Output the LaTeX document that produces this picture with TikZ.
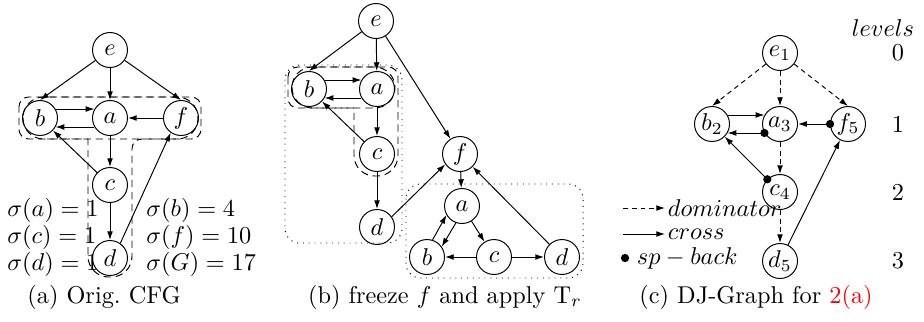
\documentclass[tikz,border=0pt]{standalone}
\usetikzlibrary{arrows.meta}
\begin{document}
\begin{tikzpicture}[x=0.4115pt,y=-0.4115pt,
  nd/.style={circle,draw,minimum size=14.4pt,inner sep=0pt},
  arr/.style={-{Latex[length=3.6pt,width=2.4pt]}},
  dom/.style={arr,dash pattern=on 2pt off 1.6pt},
  grp/.style={dash pattern=on 3pt off 2pt},
  zone/.style={dotted,rounded corners=6pt},
  dotm/.style={circle,fill,inner sep=0pt,minimum size=3.4pt},
  lbl/.style={anchor=base west,inner sep=0pt}]
\useasboundingbox (0,0) rectangle (924,321);

% ---------------- (a)
\node[nd] (ae) at (110,50) {$e$};
\node[nd] (ab) at (40,118) {$b$};
\node[nd] (aa) at (110,118) {$a$};
\node[nd] (af) at (181,118) {$f$};
\node[nd] (ac) at (110,185) {$c$};
\node[nd] (ad) at (110,258) {$d$};
\draw[arr] (ae) -- (ab.north);
\draw[arr] (ae) -- (aa);
\draw[arr] (ae) -- (af.north);
\draw[arr] (ab.30) -- (aa.150);
\draw[arr] (aa.-150) -- (ab.-30);
\draw[arr] (af) -- (aa);
\draw[arr] (aa) -- (ac);
\draw[arr] (ac) -- (ab);
\draw[arr] (ac) -- (ad);
\draw[arr] (ad.55) -- (af.-125);
\draw[grp,rounded corners=4pt] (19,118) -- (19,97) -- (201,97) -- (201,139) -- (132,139)
  [rounded corners=8.5pt] -- (132,277) -- (88,277) [rounded corners=0pt] -- (88,139)
  [rounded corners=4pt] -- (19,139) -- cycle;
\draw[grp,rounded corners=8.5pt] (23,97) rectangle (198,139);
\node[lbl] at (7,216) {$\sigma(a)=1$};
\node[lbl] at (7,243) {$\sigma(c)=1$};
\node[lbl] at (7,270) {$\sigma(d)=1$};
\node[lbl] at (146,216) {$\sigma(b)=4$};
\node[lbl] at (146,243) {$\sigma(f)=10$};
\node[lbl] at (146,270) {$\sigma(G)=17$};
\node[anchor=base] at (104,303) {(a) Orig.\ CFG};

% ---------------- (b)
\node[nd] (be) at (376,21) {$e$};
\node[nd] (bb) at (309,89) {$b$};
\node[nd] (ba) at (377,89) {$a$};
\node[nd] (bc) at (377,154) {$c$};
\node[nd] (bd) at (377,227) {$d$};
\node[nd] (bf) at (460,154) {$f$};
\node[nd] (ba2) at (462,206) {$a$};
\node[nd] (bb2) at (427,257) {$b$};
\node[nd] (bc2) at (494,257) {$c$};
\node[nd] (bd2) at (562,257) {$d$};
\draw[arr] (be) -- (bb.north);
\draw[arr] (be) -- (ba);
\draw[arr] (be) -- (bf);
\draw[arr] (bb.30) -- (ba.150);
\draw[arr] (ba.-150) -- (bb.-30);
\draw[arr] (ba) -- (bc);
\draw[arr] (bc) -- (bb);
\draw[arr] (bc) -- (bd);
\draw[arr] (bd.35) -- (bf.-145);
\draw[arr] (bf) -- (ba2);
\draw[arr] (bb2.72) -- (ba2.-150);
\draw[arr] (ba2.-110) -- (bb2.35);
\draw[arr] (ba2) -- (bc2);
\draw[arr] (bc2) -- (bb2);
\draw[arr] (bc2) -- (bd2);
\draw[arr] (bd2) -- (bf);
\draw[zone] (285,65) rectangle (402,243);
\draw[zone] (406,184) rectangle (583,278);
\draw[grp,rounded corners=4pt] (288,88) -- (288,67) -- (398,67)
  [rounded corners=8.5pt] -- (398,176) -- (354,176) [rounded corners=0pt] -- (354,108)
  [rounded corners=4pt] -- (288,108) -- cycle;
\draw[grp,rounded corners=8.4pt] (292,67) rectangle (395,108);
\node[anchor=base] at (445,303) {(b) freeze $f$ and apply $\mathrm{T}_r$};

% ---------------- (c)
\node[nd] (ce) at (780,53) {$e_1$};
\node[nd] (cb) at (712,124) {$b_2$};
\node[nd] (ca) at (780,124) {$a_3$};
\node[nd] (cf) at (848,124) {$f_5$};
\node[nd] (cc) at (780,192) {$c_4$};
\node[nd] (cd) at (780,261) {$d_5$};
\draw[dom] (ce) -- (cb.north);
\draw[dom] (ce) -- (ca);
\draw[dom] (ce) -- (cf.north);
\draw[dom] (ca) -- (cc);
\draw[dom] (cc) -- (cd);
\draw[arr] (cb.30) -- (ca.150);
\draw[arr] (ca.-150) -- (cb.-30);
\node[dotm] at (ca.-150) {};
\draw[arr] (cf) -- (ca);
\node[dotm] at (cf.west) {};
\draw[arr] (cc) -- (cb);
\node[dotm] at (cc.135) {};
\draw[arr] (cd) -- (cf);
% legend
\coordinate (l1a) at (623,208);
\coordinate (l1b) at (665,208);
\coordinate (l2a) at (623,234);
\coordinate (l2b) at (665,234);
\draw[dom] (l1a) -- (l1b);
\draw[arr] (l2a) -- (l2b);
\node[anchor=west,inner sep=1pt] at (l1b) {$dominator$};
\node[anchor=west,inner sep=1pt] at (l2b) {$cross$};
\node[dotm] (ld) at (625,258) {};
\node[anchor=west,inner sep=1pt] at (634,258) {$sp-back$};
% levels
\node at (883,28) {$levels$};
\node at (898,53) {0};
\node at (898,124) {1};
\node at (898,192) {2};
\node at (898,261) {3};
\node[anchor=base] at (756,303) {(c) DJ-Graph for \textcolor{red}{2(a)}};
\end{tikzpicture}
\end{document}
